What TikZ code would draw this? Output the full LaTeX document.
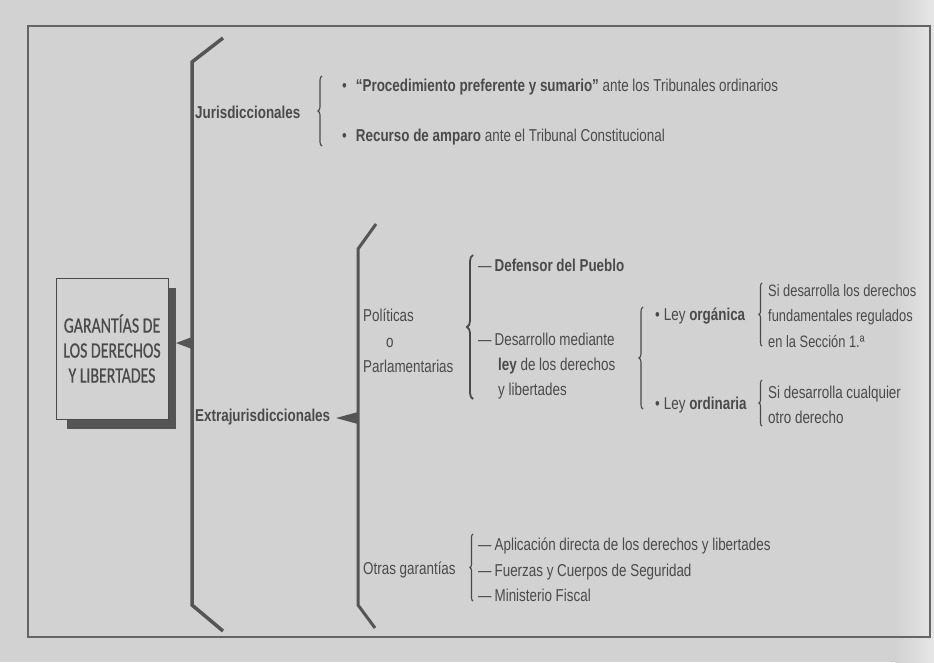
\documentclass[tikz,border=0pt]{standalone}
\usepackage{fontspec}
\setmainfont{Liberation Sans}[FakeStretch=0.78]
\newfontfamily\boxfont{Carlito}[FakeStretch=0.72,FakeBold=0.5]
\usetikzlibrary{decorations.pathreplacing}
\definecolor{paper}{HTML}{D2D2D2}
\definecolor{ink}{HTML}{4A4A4A}
\definecolor{bar}{HTML}{555555}

\begin{document}
\begin{tikzpicture}[x=1pt,y=-1pt,
  txt/.style={anchor=west,inner sep=0pt,text=ink,align=left,
    font=\fontsize{17.2}{25.3}\selectfont},
  bigbrace/.style={draw=bar,line width=3.5pt,line join=miter},
  curly/.style={draw=ink,line width=1.1pt,decorate,decoration={brace,amplitude=4pt}}]
\useasboundingbox (0,0) rectangle (934,662);
\fill[paper] (0,0) rectangle (934,662);
\shade[left color=paper,right color=paper!55!white] (895,0) rectangle (934,662);
\draw[ink!85,line width=1.2pt] (28,26) rectangle (930,637);

% the root box with its shadow
\fill[bar] (67,288) rectangle (176,429);
\node (root) at (112,348.5) [rectangle,draw=ink,line width=1pt,fill=paper,inner sep=0pt,
    minimum width=112pt,minimum height=141pt,align=center,text=ink,
    font=\boxfont\fontsize{22}{25}\selectfont] {GARANTÍAS DE\\LOS DERECHOS\\Y LIBERTADES};

% main bracket
\coordinate (maintop) at (223,38);
\coordinate (mainbot) at (223,631);
\draw[bigbrace] (maintop) -- (192,62) -- (192,605) -- (mainbot);
\fill[bar] (176,343) -- (192,337) -- (192,349) -- cycle;

% jurisdiccionales
\node (jur) at (195,112) [txt] {\bfseries Jurisdiccionales};
\draw[curly] (322,146) -- (322,76);
\node (proc) at (342,87) [txt] {•\hspace{9pt}\textbf{“Procedimiento preferente y sumario”} ante los Tribunales ordinarios};
\node (amp)  at (342,137) [txt] {•\hspace{9pt}\textbf{Recurso de amparo} ante el Tribunal Constitucional};

% extrajurisdiccionales
\node (extra) at (195,417) [txt] {\bfseries Extrajurisdiccionales};
\coordinate (extratop) at (376,224);
\coordinate (extrabot) at (375,628);
\draw[bigbrace,line width=3pt] (extratop) -- (358,249) -- (358,605) -- (extrabot);
\fill[bar] (336,418) -- (358,412) -- (358,424) -- cycle;

% politicas o parlamentarias
\node (pol) at (363,341) [txt] {Políticas\\\hspace{23pt}o\\Parlamentarias};
\draw[curly,line width=1.8pt,decoration={amplitude=6pt}] (473,399) -- (473,255);
\node (def) at (478,265) [txt] {—\hspace{3pt}\textbf{Defensor del Pueblo}};
\node (des) at (478,366) [txt] {—\hspace{3pt}Desarrollo mediante\\\hspace{20pt}\textbf{ley} de los derechos\\\hspace{20pt}y libertades};
\draw[curly] (643,409) -- (643,307);
\node (org) at (655,316) [txt] {•\hspace{4pt}Ley \textbf{orgánica}};
\node (ord) at (655,405) [txt] {•\hspace{4pt}Ley \textbf{ordinaria}};
\draw[curly,decoration={amplitude=3pt}] (762,346) -- (762,283);
\node (orgtxt) at (768,316) [txt,font=\fontsize{16.5}{25.3}\selectfont] {Si desarrolla los derechos\\fundamentales regulados\\en la Sección 1.ª};
\draw[curly,decoration={amplitude=3pt}] (762,426) -- (762,380);
\node (ordtxt) at (768,405) [txt] {Si desarrolla cualquier\\otro derecho};

% otras garantias
\node (otras) at (363,570) [txt] {Otras garantías};
\draw[curly,decoration={amplitude=3pt}] (473,601) -- (473,534);
\node (otr) at (478,570) [txt] {—\hspace{3pt}Aplicación directa de los derechos y libertades\\—\hspace{3pt}Fuerzas y Cuerpos de Seguridad\\—\hspace{3pt}Ministerio Fiscal};
\end{tikzpicture}
\end{document}
